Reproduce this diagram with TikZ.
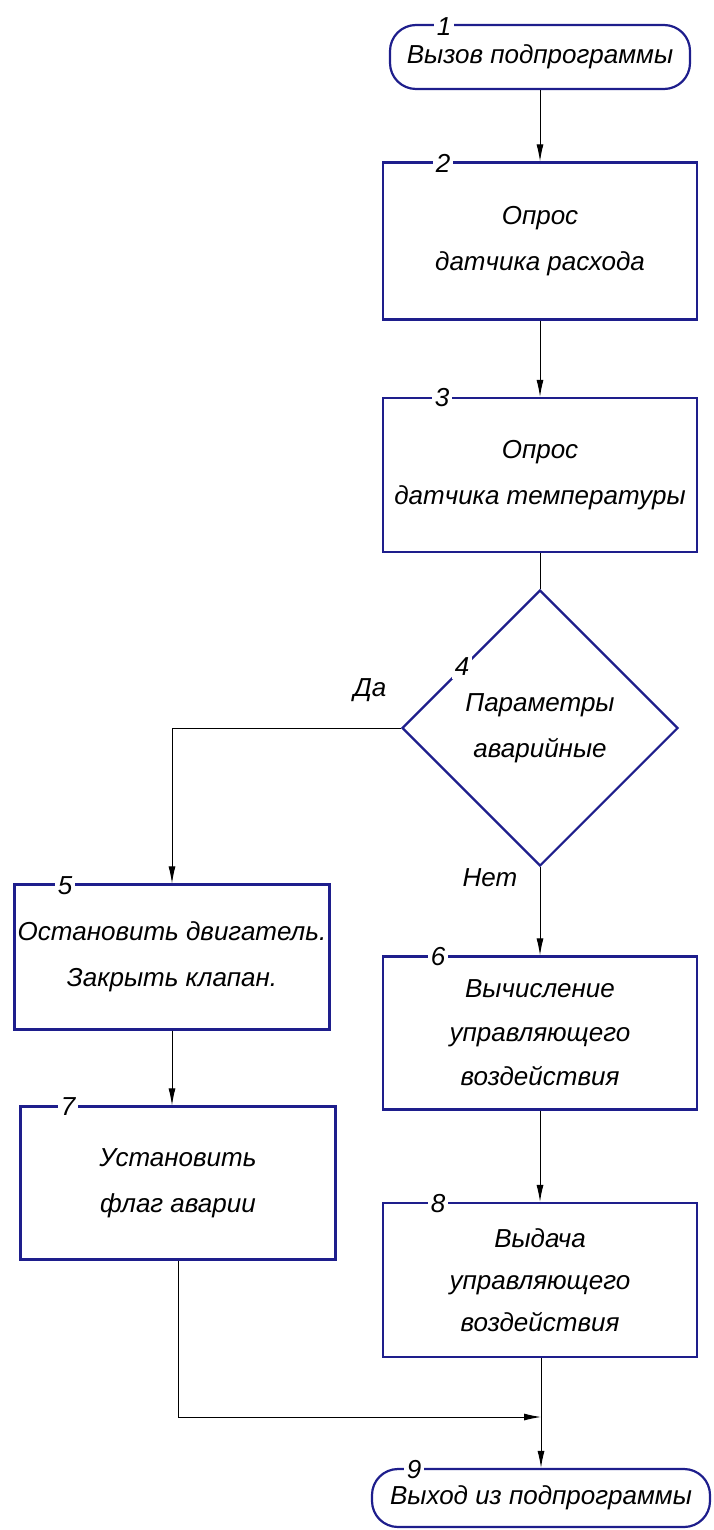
\documentclass[tikz,border=0pt]{standalone}
\usepackage{fontspec}
\setmainfont{Liberation Sans}
\usepackage{tikz}
\usetikzlibrary{arrows.meta,shapes.geometric,calc}
\definecolor{bordblue}{RGB}{30,30,140}

\begin{document}
\begin{tikzpicture}[x=1pt,y=-1pt,
		>={Latex[length=17pt,width=7pt]},
		every node/.style={font=\fontsize{26}{46}\selectfont\itshape},
		block/.style={draw=bordblue, line width=2.2pt, minimum width=314pt, align=center, inner sep=0pt},
		term/.style={block, rounded corners=26pt},
		cond/.style={draw=bordblue, line width=2.2pt, diamond, aspect=1, minimum width=276pt, minimum height=276pt, align=center, inner sep=0pt},
		num/.style={fill=white, inner sep=3pt},
		link/.style={line width=1pt}]
		\useasboundingbox (0,0) rectangle (713,1530);
		
		% blocks
		\node[term, minimum width=300pt, minimum height=64pt] (t1) at (540,57) {Вызов подпрограммы};
		\node[block, minimum height=157pt] (b2) at (540,241) {Опрос\\датчика расхода};
		\node[block, minimum height=154pt] (b3) at (540,475) {Опрос\\датчика температуры};
		\node[cond] (d4) at (540,728) {Параметры\\аварийные};
		\node[block, minimum width=315pt, minimum height=145pt] (b5) at (172,957) {Остановить двигатель.\\Закрыть клапан.};
		\node[block, minimum height=153pt] (b6) at (540,1033) {Вычисление\\[-2pt]управляющего\\[-2pt]воздействия};
		\node[block, minimum width=315pt, minimum height=153pt] (b7) at (178,1183) {Установить\\флаг аварии};
		\node[block, minimum height=154pt] (b8) at (540,1280) {Выдача\\[-4pt]управляющего\\[-4pt]воздействия};
		\node[term, minimum width=338pt, minimum height=58pt] (t9) at (541,1498) {Выход из подпрограммы};
		
		% numbers
		\node[num] (n1) at (444,27) {1};
		\node[num] (n2) at (443,163) {2};
		\node[num] (n3) at (442,398) {3};
		\node[num] (n4) at (462,667) {4};
		\node[num] (n5) at (65,886) {5};
		\node[num] (n6) at (438,957) {6};
		\node[num] (n7) at (68,1107) {7};
		\node[num] (n8) at (438,1204) {8};
		\node[num] (n9) at (414,1470) {9};
		
		% labels
		\node (da) at (370,690) {Да};
		\node (net) at (490,878) {Нет};
		
		% links
		\coordinate (j) at (541,1417);
		\draw[link, ->] (t1) -- (b2);
		\draw[link, ->] (b2) -- (b3);
		\draw[link] (b3) -- (d4);
		\draw[link, ->] (d4.west) -| (b5.north);
		\draw[link, ->] (d4.south) -- (b6.north);
		\draw[link, ->] (b5.south) -- (b5.south |- b7.north);
		\draw[link, ->] (b6) -- (b8);
		\draw[link, ->] (b8.south -| t9.north) -- (t9.north);
		\draw[link, ->] (b7.south) |- (j);
	\end{tikzpicture}
\end{document}
